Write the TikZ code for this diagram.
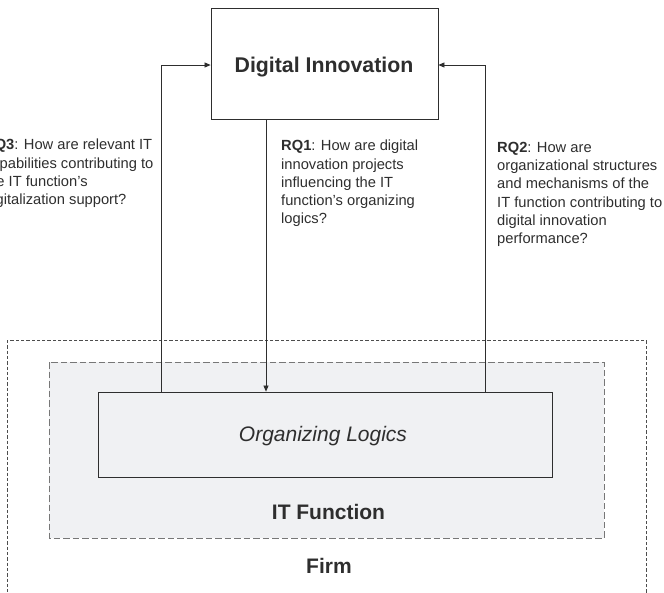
\documentclass[tikz,border=0pt]{standalone}
\usepackage{fontspec}
\setmainfont{Liberation Sans}
\usetikzlibrary{arrows.meta}
\definecolor{ink}{HTML}{2E2E2E}
\definecolor{panel}{HTML}{F0F1F3}
\begin{document}
\begin{tikzpicture}[x=1pt,y=-1pt,
  box/.style={draw=ink,line width=0.8pt,fill=white,inner sep=0},
  conn/.style={draw=ink,line width=0.7pt},
  tip/.style={-{Triangle[length=6pt,width=5pt]}},
  rq/.style={anchor=north west,align=left,inner sep=0,text=ink,font=\fontsize{14.7}{18.2}\selectfont},
  lbl/.style={text=ink,inner sep=0,anchor=base}]
\useasboundingbox (0,0) rectangle (664,592);
\clip (0,0) rectangle (664,592);
% firm
\draw[ink!85,line width=0.6pt,dash pattern=on 3.3pt off 2pt] (7,340) rectangle (646,600);
% IT function
\draw[draw=ink!65,fill=panel,line width=1pt,dash pattern=on 6.5pt off 3pt] (49,362) rectangle (604,538);
\node[box,fill=panel,minimum width=454,minimum height=85] (ol) at (325,434.5) {};
\node[lbl,font=\fontsize{21}{24}\selectfont\itshape] (olt) at (323,441) {Organizing Logics};
\node[lbl,font=\fontsize{21}{24}\selectfont\bfseries] (itf) at (328.5,519) {IT Function};
\node[lbl,font=\fontsize{21}{24}\selectfont\bfseries] (firm) at (329,573) {Firm};
% digital innovation
\node[box,minimum width=227,minimum height=111] (di) at (324.5,63.5) {};
\node[lbl,font=\fontsize{21.3}{24}\selectfont\bfseries] (dit) at (324,72) {Digital Innovation};
% connectors
\coordinate (l1) at (161,392);
\coordinate (l2) at (161,65);
\coordinate (r1) at (485,392);
\coordinate (r2) at (485,65);
\draw[conn,tip] (l1) -- (l2) -- (di.west |- l2);
\draw[conn,tip] (r1) -- (r2) -- (di.east |- r2);
\draw[conn,tip] (di.south -| 266,0) -- (ol.north -| 266,0);
% texts
\node[rq] (rq3) at (-16,139) {\textbf{RQ3}: How are relevant IT\\capabilities contributing to\\the IT function's\\digitalization support?};
\node[rq] (rq1) at (281,140) {\textbf{RQ1}: How are digital\\innovation projects\\influencing the IT\\function's organizing\\logics?};
\node[rq] (rq2) at (497,142) {\textbf{RQ2}: How are\\organizational structures\\and mechanisms of the\\IT function contributing to\\digital innovation\\performance?};
\end{tikzpicture}
\end{document}
